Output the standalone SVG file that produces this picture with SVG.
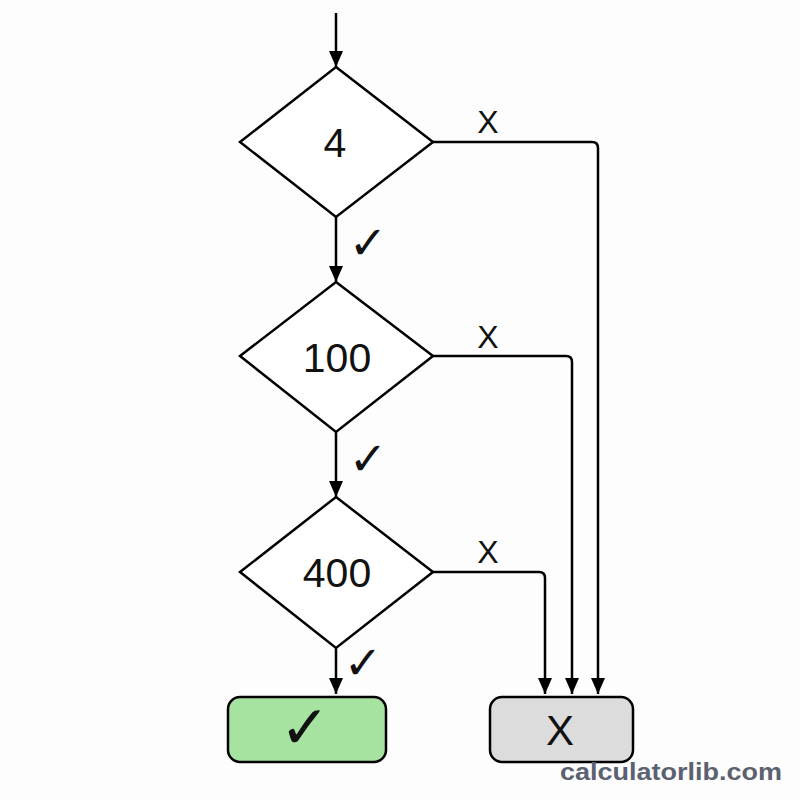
<svg xmlns="http://www.w3.org/2000/svg" width="800" height="800" viewBox="0 0 800 800">
<style>
.shape{fill:#ffffff;stroke:#000;stroke-width:2.5;stroke-linejoin:miter}
.edge{fill:none;stroke:#000;stroke-width:2.5;stroke-linejoin:round}
.lbl{font-family:"Liberation Sans",Arial,sans-serif;font-size:41px;fill:#111;text-anchor:middle}
.xl{font-family:"Liberation Sans",Arial,sans-serif;font-size:32px;fill:#111;text-anchor:middle}
.ck{font-family:"DejaVu Sans",sans-serif;font-size:46px;font-weight:bold;fill:#111;text-anchor:middle}
</style>
<defs>
<marker id="ah" viewBox="0 0 16 14" refX="16" refY="7" markerWidth="16" markerHeight="14" markerUnits="userSpaceOnUse" orient="auto">
<path d="M0,0 L16,7 L0,14 Z" fill="#000"/>
</marker>
</defs>
<rect width="800" height="800" fill="#fdfdfd"/>
<g id="connectors">
<path class="edge" d="M336,13 V67" marker-end="url(#ah)"/>
<path class="edge" d="M336,217 V282" marker-end="url(#ah)"/>
<path class="edge" d="M336,432 V497" marker-end="url(#ah)"/>
<path class="edge" d="M336,648 V694" marker-end="url(#ah)"/>
<path class="edge" d="M433,142 H592 Q598,142 598,148 V694" marker-end="url(#ah)"/>
<path class="edge" d="M433,356 H566 Q572,356 572,362 V694" marker-end="url(#ah)"/>
<path class="edge" d="M433,572 H539 Q545,572 545,578 V694" marker-end="url(#ah)"/>
<text class="xl" x="488" y="133">X</text>
<text class="xl" x="488" y="348">X</text>
<text class="xl" x="488" y="563">X</text>
<text class="ck" x="368" y="259">✓</text>
<text class="ck" x="368" y="475">✓</text>
<text class="ck" x="363" y="679">✓</text>
</g>
<g id="d4">
<polygon class="shape" points="336,67 433,142 336,217 240,142"/>
<text class="lbl" x="335" y="157">4</text>
</g>
<g id="d100">
<polygon class="shape" points="336,282 433,356 336,432 240,356"/>
<text class="lbl" x="337" y="372">100</text>
</g>
<g id="d400">
<polygon class="shape" points="336,497 433,572 336,648 240,572"/>
<text class="lbl" x="337" y="587">400</text>
</g>
<g id="yes">
<rect x="228" y="697" width="158" height="65" rx="12" fill="#a6e3a0" stroke="#000" stroke-width="2.5"/>
<text class="ck" x="305" y="748" style="font-size:60px">✓</text>
</g>
<g id="no">
<rect x="490" y="697" width="143" height="65" rx="12" fill="#dcdcdc" stroke="#000" stroke-width="2.5"/>
<text class="lbl" x="560" y="745" style="font-size:42px">X</text>
</g>
<text x="560" y="780" font-family="Liberation Sans,Arial,sans-serif" font-weight="bold" font-size="24" fill="#5b6170" textLength="222" lengthAdjust="spacingAndGlyphs">calculatorlib.com</text>
</svg>
